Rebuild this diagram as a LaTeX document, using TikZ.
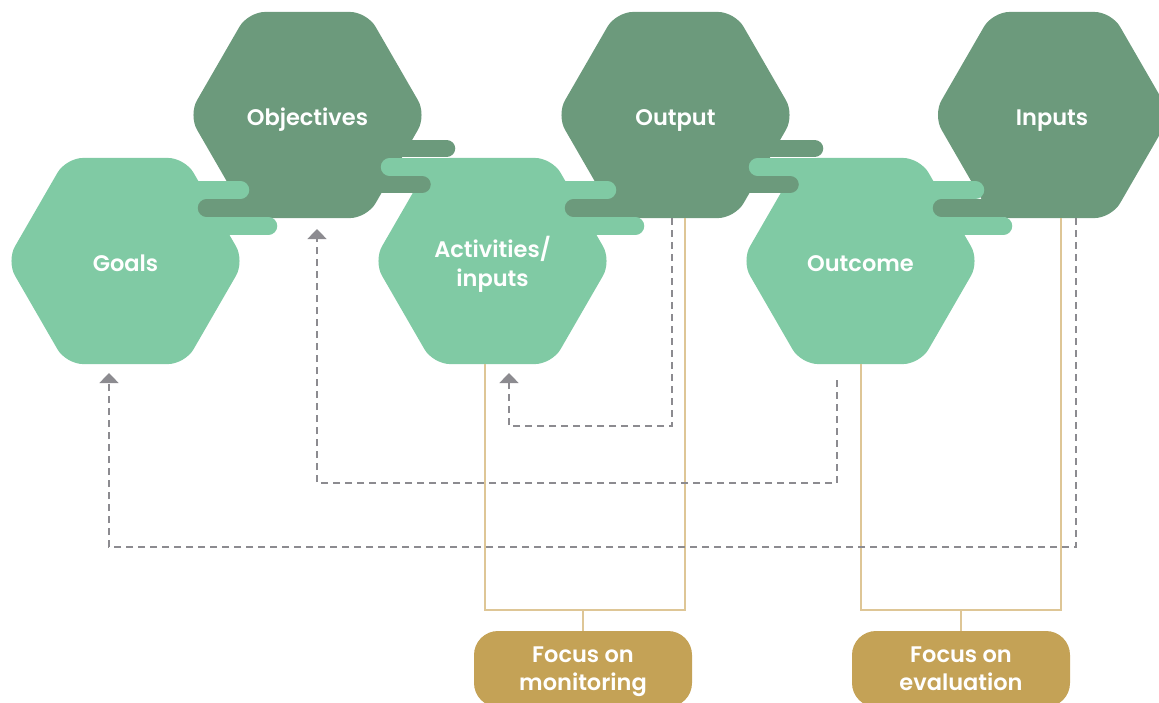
\documentclass[tikz,border=0pt]{standalone}
\usepackage{fontspec}
\setmainfont{Poppins}
\newfontfamily\popsemi{Poppins SemiBold}
\usetikzlibrary{shapes.geometric,arrows.meta,calc}
\definecolor{lgreen}{HTML}{80CAA4}
\definecolor{dgreen}{HTML}{6C9A7C}
\definecolor{gold}{HTML}{C4A256}
\definecolor{goldline}{HTML}{DEC696}
\definecolor{dashgray}{HTML}{8C8B90}
\begin{document}
\begin{tikzpicture}[x=1pt,y=-1pt,
  hexbox/.style={regular polygon, regular polygon sides=6, minimum size=238pt, inner sep=0pt, outer sep=0pt, rounded corners=17pt, text=white, font=\popsemi\fontsize{22.5}{29}\selectfont, align=center, text depth=0pt, text height=20pt},
  lighthex/.style={hexbox, fill=lgreen},
  darkhex/.style={hexbox, fill=dgreen},
  lbar/.style={draw=lgreen, line width=17.5pt, line cap=round},
  dbar/.style={draw=dgreen, line width=17.5pt, line cap=round},
  feedback/.style={draw=dashgray, line width=2pt, dash pattern=on 7pt off 5pt, -{Triangle[width=19pt,length=10pt]}},
  focusline/.style={draw=goldline, line width=2.8pt},
  focuspill/.style={fill=gold, rounded corners=24pt, minimum width=218pt, minimum height=76pt, inner sep=0pt, text=white, font=\popsemi\fontsize{22.5}{28}\selectfont, align=center, text depth=0pt}
]
\useasboundingbox (0,0) rectangle (1159,702);
\clip (0,0) rectangle (1159,702);

% hexagons
\node[lighthex] (goals) at (125.5,261) {Goals};
\node[darkhex] (obj) at (307.5,115) {Objectives};
\node[lighthex, text height={}, text depth=-5pt] (act) at (492.5,261) {Activities/\\inputs};
\node[darkhex] (out) at (675.5,115) {Output};
\node[lighthex] (outc) at (860.5,261) {Outcome};
\node[darkhex] (inp) at (1052,115) {Inputs};

% lower bar groups (light hexagon to the dark one on its right)
\foreach \L in {goals,act,outc}{
  \draw[lbar] ($(\L.center)+(60,-71)$) -- ($(\L.center)+(115,-71)$);
  \draw[dbar] ($(\L.center)+(81,-53)$) -- ($(\L.center)+(150,-53)$);
  \draw[lbar] ($(\L.center)+(60,-35)$) -- ($(\L.center)+(143,-35)$);
}
% upper bar groups (dark hexagon to the light one on its right)
\foreach \D in {obj,out}{
  \draw[dbar] ($(\D.center)+(60,33.5)$) -- ($(\D.center)+(139,33.5)$);
  \draw[lbar] ($(\D.center)+(82,52)$) -- ($(\D.center)+(160,52)$);
  \draw[dbar] ($(\D.center)+(60,69.5)$) -- ($(\D.center)+(114.5,69.5)$);
}

% focus brackets
\node[focuspill] (mon) at (583,669) {Focus on\\monitoring};
\node[focuspill] (eva) at (961,669) {Focus on\\evaluation};
\coordinate (monj) at (583,610);
\coordinate (evaj) at (961,610);
\draw[focusline] ($(act.south)+(-7.5,0)$) -- ++(0,246) -| ($(out.south)+(9.5,0)$);
\draw[focusline] ($(outc.south)+(0.5,0)$) -- ++(0,246) -| ($(inp.south)+(9,0)$);
\draw[focusline] (mon.north) -- (monj);
\draw[focusline] (eva.north) -- (evaj);

% feedback loops
\draw[feedback] ($(out.south)+(-3.5,0)$) -- ++(0,208) -| ($(act.south)+(16.5,9)$);
\draw[feedback] ($(outc.south)+(-23.5,16)$) -- ++(0,103) -| ($(obj.south)+(9.5,11)$);
\draw[feedback] ($(inp.south)+(24,0)$) -- ++(0,329) -| ($(goals.south)+(-16.5,9)$);
\end{tikzpicture}
\end{document}
